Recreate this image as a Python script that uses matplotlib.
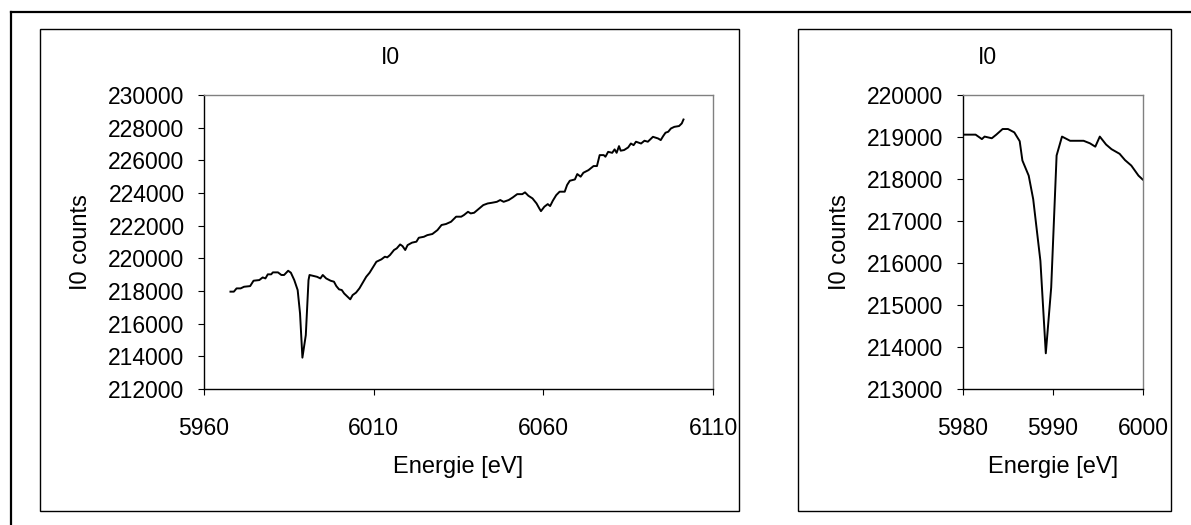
import matplotlib
matplotlib.use("Agg")
import matplotlib.pyplot as plt
from matplotlib.lines import Line2D
from matplotlib.patches import Rectangle

plt.rcParams['font.family'] = ['Liberation Sans', 'DejaVu Sans']

# ---------------- data ----------------
left_energy = [5967.8, 5968.8, 5969.6, 5970.8, 5971.8, 5973.6, 5974.6, 5976.3, 5977.3, 5978.1,
               5978.8, 5979.8, 5980.3, 5981.8, 5982.8, 5983.6, 5984.8, 5985.6, 5986.6, 5987.6,
               5988.3, 5989.0, 5990.0, 5990.8, 5991.1, 5992.3, 5993.3, 5994.3, 5995.0, 5996.0,
               5997.3, 5998.3, 5999.0, 5999.8, 6000.6, 6001.3, 6002.3, 6003.1, 6003.8, 6004.8,
               6005.8, 6006.8, 6007.8, 6008.8, 6009.8, 6010.8, 6012.3, 6013.3, 6014.0, 6014.8,
               6016.0, 6016.8, 6017.8, 6018.5, 6019.3, 6020.0, 6021.3, 6022.6, 6023.3, 6024.8,
               6025.8, 6027.3, 6028.8, 6030.0, 6031.3, 6032.8, 6034.3, 6035.8, 6036.6, 6037.8,
               6038.6, 6039.6, 6040.8, 6042.3, 6043.6, 6044.8, 6046.3, 6047.3, 6048.3, 6049.8,
               6051.0, 6052.3, 6053.8, 6054.6, 6055.6, 6056.8, 6058.0, 6058.8, 6059.3, 6060.3,
               6061.3, 6062.0, 6062.8, 6063.8, 6064.8, 6066.3, 6067.0, 6067.8, 6069.3, 6070.0,
               6071.0, 6071.8, 6073.3, 6074.8, 6075.8, 6076.6, 6077.8, 6078.3, 6079.1, 6080.3,
               6081.0, 6081.6, 6082.3, 6082.8, 6083.8, 6085.0, 6085.8, 6086.6, 6087.3, 6088.8,
               6089.8, 6090.8, 6092.3, 6093.8, 6094.6, 6095.3, 6096.0, 6096.8, 6097.6, 6098.6,
               6100.0, 6100.8, 6101.3]
left_counts = [217960, 217960, 218160, 218160, 218260, 218300, 218630, 218670, 218830, 218770,
               219020, 219020, 219140, 219140, 218980, 218980, 219240, 219120, 218670, 218060,
               216630, 213920, 215300, 218670, 218980, 218920, 218870, 218770, 218980, 218770,
               218630, 218570, 218300, 218100, 218060, 217850, 217650, 217490, 217750, 217900,
               218160, 218510, 218870, 219120, 219450, 219790, 219940, 220100, 220060, 220200,
               220510, 220610, 220850, 220750, 220510, 220810, 220960, 221020, 221260, 221320,
               221420, 221490, 221730, 222040, 222100, 222240, 222550, 222550, 222650, 222850,
               222750, 222790, 223000, 223260, 223360, 223400, 223460, 223570, 223460, 223570,
               223730, 223930, 223930, 224040, 223830, 223670, 223360, 223060, 222890, 223160,
               223320, 223200, 223530, 223870, 224080, 224080, 224490, 224750, 224830, 225160,
               225000, 225240, 225400, 225650, 225650, 226320, 226320, 226220, 226520, 226460,
               226670, 226460, 226870, 226590, 226630, 226790, 227030, 226930, 227140, 227030,
               227200, 227140, 227440, 227340, 227240, 227480, 227690, 227750, 227950, 228050,
               228100, 228260, 228500]

right_energy = [5980.0, 5981.4, 5982.1, 5982.4, 5983.2, 5983.7, 5984.4, 5985.0, 5985.7, 5986.3,
                5986.6, 5987.3, 5987.8, 5988.6, 5989.2, 5989.8, 5990.4, 5991.0, 5991.9, 5993.4,
                5994.1, 5994.7, 5995.2, 5995.9, 5996.5, 5997.4, 5998.0, 5998.7, 5999.5, 6000.0,
                6000.3]
right_counts = [219056, 219056, 218950, 219010, 218970, 219056, 219190, 219190, 219110, 218900,
                218440, 218080, 217520, 216050, 213850, 215420, 218560, 219010, 218910, 218910,
                218850, 218770, 219010, 218820, 218710, 218600, 218450, 218320, 218080, 217980,
                218000]

left_xticks = [5960, 6010, 6060, 6110]
left_yticks = list(range(212000, 230001, 2000))
right_xticks = [5980, 5990, 6000]
right_yticks = list(range(213000, 220001, 1000))

title_text = "I0"
ylabel_text = "I0 counts"
xlabel_text = "Energie [eV]"

# ---------------- layout ----------------
W, H = 1191, 525
fig = plt.figure(figsize=(W / 100, H / 100), dpi=100)
fig.patch.set_facecolor('white')

def fx(px):
    return px / W

def fy(py):
    return 1 - py / H

FS = 16.5
FS_LABEL = 17

def make_axes(x0, x1, y0, y1):
    ax = fig.add_axes([fx(x0), fy(y1), (x1 - x0) / W, (y1 - y0) / H])
    for s in ['top', 'right']:
        ax.spines[s].set_color('#808080')
        ax.spines[s].set_linewidth(1.0)
    for s in ['left', 'bottom']:
        ax.spines[s].set_color('black')
        ax.spines[s].set_linewidth(1.0)
    ax.tick_params(axis='both', which='major', direction='out', length=4.0, width=0.8,
                   labelsize=FS, colors='black')
    ax.tick_params(axis='x', pad=16)
    ax.tick_params(axis='y', pad=10)
    ax.minorticks_off()
    return ax

# Outer frame (cropped at right and bottom)
fig.add_artist(Line2D([fx(11), fx(W + 5)], [fy(12), fy(12)], color='black', lw=1.6,
                      transform=fig.transFigure))
fig.add_artist(Line2D([fx(11), fx(11)], [fy(12), fy(H + 5)], color='black', lw=1.6,
                      transform=fig.transFigure))

# Chart boxes
for (bx0, bx1) in [(39.5, 739.3), (797.7, 1170.7)]:
    fig.add_artist(Rectangle((fx(bx0), fy(511)), (bx1 - bx0) / W, (511 - 29.3) / H,
                             transform=fig.transFigure, fill=False, ec='black', lw=1.0))

# Left chart
axL = make_axes(204, 713, 95, 389)
axL.plot(left_energy, left_counts, color='black', lw=1.4, solid_joinstyle='round')
axL.set_xlim(left_xticks[0], left_xticks[-1])
axL.set_ylim(left_yticks[0], left_yticks[-1])
axL.set_xticks(left_xticks)
axL.set_yticks(left_yticks)
axL.set_xticklabels([str(v) for v in left_xticks])
axL.set_yticklabels([str(v) for v in left_yticks])

# Right chart
axR = make_axes(963, 1143, 95, 389)
axR.plot(right_energy, right_counts, color='black', lw=1.4, solid_joinstyle='round')
axR.set_xlim(right_xticks[0], right_xticks[-1])
axR.set_ylim(right_yticks[0], right_yticks[-1])
axR.set_xticks(right_xticks)
axR.set_yticks(right_yticks)
axR.set_xticklabels([str(v) for v in right_xticks])
axR.set_yticklabels([str(v) for v in right_yticks])

# Texts
fig.text(fx(390), fy(57), title_text, ha='center', va='center', fontsize=FS)
fig.text(fx(987), fy(57), title_text, ha='center', va='center', fontsize=FS)
fig.text(fx(81), fy(242), ylabel_text, ha='center', va='center', rotation=90, fontsize=FS_LABEL)
fig.text(fx(840), fy(242), ylabel_text, ha='center', va='center', rotation=90, fontsize=FS_LABEL)
fig.text(fx(458.5), fy(467), xlabel_text, ha='center', va='center', fontsize=FS_LABEL)
fig.text(fx(1053), fy(467), xlabel_text, ha='center', va='center', fontsize=FS_LABEL)

fig.savefig("out.png", dpi=100, facecolor='white')
